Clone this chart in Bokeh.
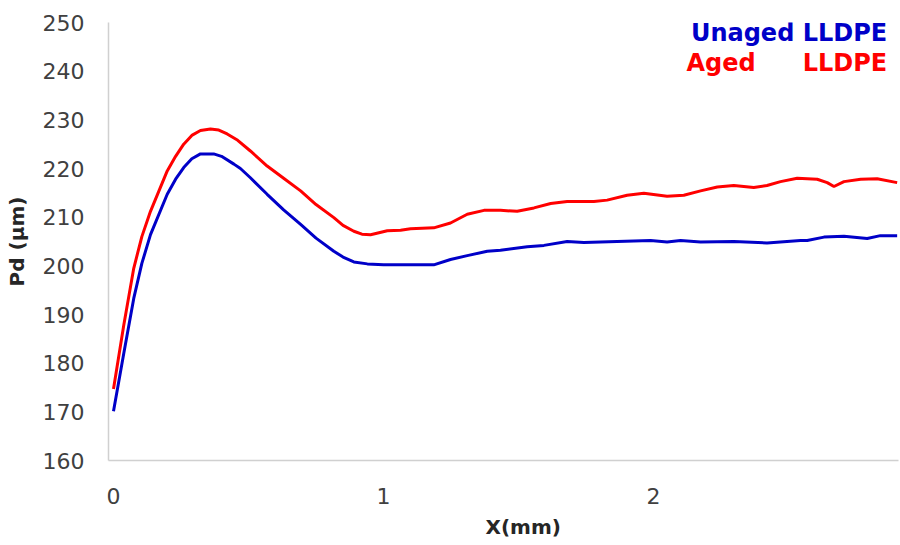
from bokeh.plotting import figure
from bokeh.models import Range1d, Label, FixedTicker, Title
from bokeh.embed import file_html
from bokeh.resources import INLINE

# ---- data ----
x_unaged = [0, 0.038, 0.075, 0.105, 0.137, 0.199, 0.23, 0.26, 0.29, 0.322, 0.371, 0.40, 0.446,
            0.47, 0.507, 0.569, 0.63, 0.693, 0.75, 0.816, 0.85, 0.89, 0.94, 1.0, 1.063,
            1.137, 1.186, 1.248, 1.31, 1.384, 1.433, 1.532, 1.594, 1.68, 1.742, 1.865,
            1.989, 2.05, 2.1, 2.174, 2.297, 2.42, 2.544, 2.569, 2.631, 2.705, 2.791, 2.84,
            2.902]
pd_unaged = [170.1, 182.0, 193.3, 200.5, 206.4, 214.7, 217.8, 220.2, 222.0, 223.0, 223.0, 222.5,
             220.9, 220.0, 218.1, 214.7, 211.5, 208.5, 205.7, 203.0, 201.8, 200.8, 200.4,
             200.2, 200.2, 200.2, 200.2, 201.3, 202.1, 203.0, 203.2, 203.9, 204.2, 205.0,
             204.8, 205.0, 205.2, 204.9, 205.2, 204.9, 205.0, 204.7, 205.2, 205.2, 205.9,
             206.1, 205.6, 206.2, 206.2]

x_aged = [0, 0.038, 0.075, 0.105, 0.137, 0.199, 0.23, 0.26, 0.29, 0.322, 0.359, 0.39, 0.421,
          0.46, 0.507, 0.569, 0.63, 0.693, 0.75, 0.816, 0.85, 0.89, 0.92, 0.952, 1.014,
          1.063, 1.1, 1.186, 1.248, 1.31, 1.372, 1.433, 1.495, 1.557, 1.619, 1.68, 1.779,
          1.828, 1.902, 1.964, 2.05, 2.112, 2.174, 2.236, 2.297, 2.371, 2.42, 2.47, 2.532,
          2.606, 2.643, 2.668, 2.705, 2.767, 2.828, 2.902]
pd_aged = [174.7, 187.8, 199.5, 206.0, 211.2, 219.5, 222.5, 225.0, 226.8, 227.8, 228.1, 227.9,
           227.1, 225.8, 223.6, 220.5, 218.0, 215.4, 212.6, 209.9, 208.3, 207.1, 206.5,
           206.4, 207.2, 207.3, 207.6, 207.8, 208.8, 210.6, 211.4, 211.4, 211.2, 211.9,
           212.8, 213.2, 213.2, 213.5, 214.5, 214.9, 214.3, 214.5, 215.4, 216.2, 216.5,
           216.1, 216.5, 217.3, 218.0, 217.8, 217.1, 216.3, 217.3, 217.8, 217.9, 217.1]

x_ticks = [0, 1, 2]
y_ticks = [160, 170, 180, 190, 200, 210, 220, 230, 240, 250]
series_names = ["Unaged LLDPE", "Aged", "LLDPE"]
x_title = "X(mm)"
y_title = "Pd (µm)"

BLUE = "#0000C8"
RED = "#FF0000"
FONT = "DejaVu Sans"

p = figure(width=900, height=545, output_backend="svg", toolbar_location=None,
           x_range=Range1d(-0.0185, 2.907), y_range=Range1d(160, 250),
           min_border_left=108, min_border_right=2, min_border_top=22, min_border_bottom=8)
p.outline_line_color = None
p.xgrid.visible = False
p.ygrid.visible = False
p.background_fill_color = "white"
p.border_fill_color = "white"

p.line(x_unaged, pd_unaged, line_color=BLUE, line_width=3)
p.line(x_aged, pd_aged, line_color=RED, line_width=3)

for ax in (p.xaxis[0], p.yaxis[0]):
    ax.axis_line_color = "#d0d0d0"
    ax.axis_line_width = 1.5
    ax.major_tick_line_color = None
    ax.minor_tick_line_color = None
    ax.major_tick_out = 0
    ax.major_label_text_font = FONT
    ax.major_label_text_font_size = "22px"
    ax.major_label_text_color = "#404040"
    ax.axis_label_text_font = FONT
    ax.axis_label_text_font_style = "bold"
    ax.axis_label_text_font_size = "20px"
    ax.axis_label_text_color = "#262626"

p.xaxis[0].ticker = FixedTicker(ticks=x_ticks)
p.yaxis[0].ticker = FixedTicker(ticks=y_ticks)
p.yaxis[0].major_label_standoff = 24
p.xaxis[0].major_label_standoff = 27
p.yaxis[0].axis_label = y_title
p.yaxis[0].axis_label_standoff = 11

xt = Title(text=x_title, align="left", offset=377, text_font=FONT, text_font_style="bold",
           text_font_size="20px", text_color="#262626", standoff=13)
p.add_layout(xt, "below")

l1 = Label(x=2.865, y=247.9, text=series_names[0], text_font=FONT, text_font_style="bold",
           text_font_size="24px", text_color=BLUE, text_align="right", text_baseline="alphabetic")
l2 = Label(x=2.122, y=241.7, text=series_names[1], text_font=FONT, text_font_style="bold",
           text_font_size="24px", text_color=RED, text_align="left", text_baseline="alphabetic")
l3 = Label(x=2.865, y=241.7, text=series_names[2], text_font=FONT, text_font_style="bold",
           text_font_size="24px", text_color=RED, text_align="right", text_baseline="alphabetic")
for l in (l1, l2, l3):
    p.add_layout(l)

open("out.html", "w").write(file_html(p, INLINE))
